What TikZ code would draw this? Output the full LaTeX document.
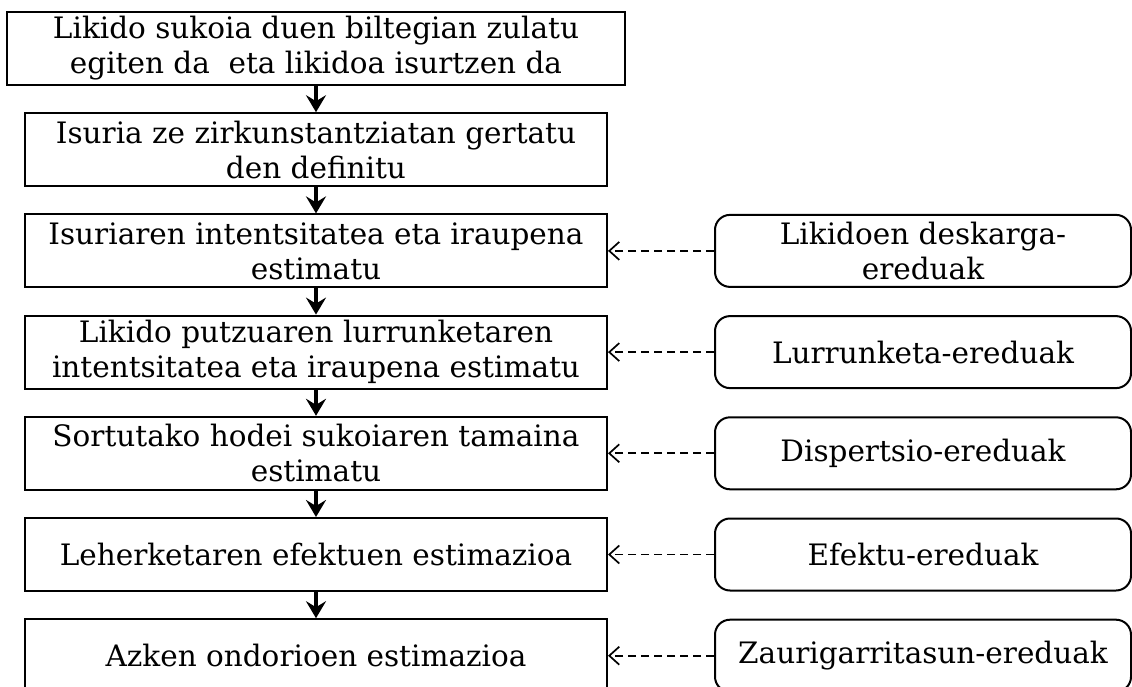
\documentclass[tikz,border=0pt]{standalone}
\usepackage{fontspec}
\setmainfont{DejaVu Serif}
\usetikzlibrary{arrows.meta}
\begin{document}
\begin{tikzpicture}[x=1pt, y=-1pt,
  txt/.style={font=\fontsize{29.5}{35}\selectfont},
  stepbox/.style={txt, draw, line width=2pt, minimum width=582pt, minimum height=73pt,
                  align=center, inner sep=0pt},
  modelbox/.style={txt, draw, line width=2pt, rounded corners=15pt, minimum width=416pt,
                   minimum height=72pt, align=center, inner sep=0pt},
  flow/.style={line width=4pt, -{Stealth[length=17pt, width=20pt, inset=6pt]}},
  feed/.style={line width=1.7pt, dash pattern=on 8pt off 5pt,
               -{Straight Barb[length=10pt, width=18pt]}}
]
\useasboundingbox (0,0) rectangle (1132,687);

% main chain of steps
\node[stepbox, minimum width=618pt] (s1) at (316,48.5)
  {Likido sukoia duen biltegian zulatu\\egiten da\ \ eta likidoa isurtzen da};
\node[stepbox] (s2) at (316,149.7) {Isuria ze zirkunstantziatan gertatu\\den definitu};
\node[stepbox] (s3) at (316,250.9) {Isuriaren intentsitatea eta iraupena\\estimatu};
\node[stepbox] (s4) at (316,352.1) {Likido putzuaren lurrunketaren\\intentsitatea eta iraupena estimatu};
\node[stepbox] (s5) at (316,453.3) {Sortutako hodei sukoiaren tamaina\\estimatu};
\node[stepbox] (s6) at (316,554.5) {Leherketaren efektuen estimazioa};
\node[stepbox] (s7) at (316,655.7) {Azken ondorioen estimazioa};

% models feeding the steps
\node[modelbox] (m3) at (923,250.9) {Likidoen deskarga-\\ereduak};
\node[modelbox] (m4) at (923,352.1) {Lurrunketa-ereduak};
\node[modelbox] (m5) at (923,453.3) {Dispertsio-ereduak};
\node[modelbox] (m6) at (923,554.5) {Efektu-ereduak};
\node[modelbox] (m7) at (923,655.7) {Zaurigarritasun-ereduak};

\foreach \a/\b in {s1/s2, s2/s3, s3/s4, s4/s5, s5/s6, s6/s7}
  \draw[flow] (\a.south) -- (\b.north);

\foreach \i in {3,...,7}
  \draw[feed] (m\i.west) -- (s\i.east);
\end{tikzpicture}
\end{document}
